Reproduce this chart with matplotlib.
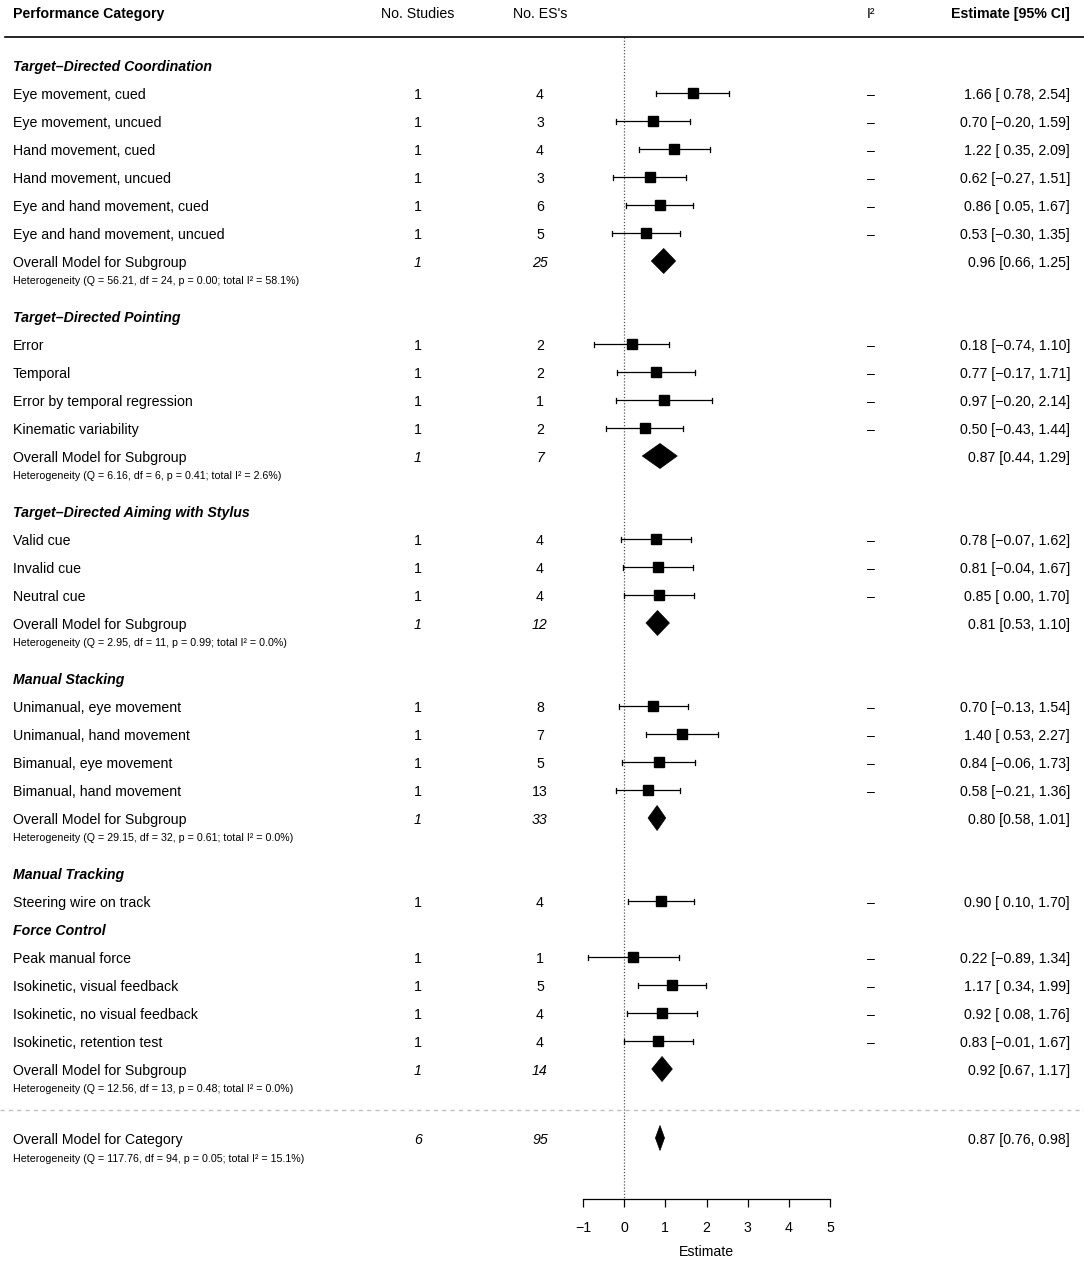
import matplotlib
matplotlib.use("Agg")
import matplotlib.pyplot as plt
from matplotlib.transforms import blended_transform_factory
from matplotlib.patches import Polygon

plt.rcParams['font.family'] = ['Liberation Sans', 'DejaVu Sans']

# ---------------- data ----------------
group_titles = ["Target\u2013Directed Coordination", "Target\u2013Directed Pointing",
                "Target\u2013Directed Aiming with Stylus", "Manual Stacking",
                "Manual Tracking", "Force Control"]

labels = ["Eye movement, cued", "Eye movement, uncued", "Hand movement, cued",
          "Hand movement, uncued", "Eye and hand movement, cued", "Eye and hand movement, uncued",
          "Error", "Temporal", "Error by temporal regression", "Kinematic variability",
          "Valid cue", "Invalid cue", "Neutral cue",
          "Unimanual, eye movement", "Unimanual, hand movement", "Bimanual, eye movement",
          "Bimanual, hand movement",
          "Steering wire on track",
          "Peak manual force", "Isokinetic, visual feedback", "Isokinetic, no visual feedback",
          "Isokinetic, retention test"]
group_of = [0, 0, 0, 0, 0, 0, 1, 1, 1, 1, 2, 2, 2, 3, 3, 3, 3, 4, 5, 5, 5, 5]
n_studies = [1] * 22
n_es = [4, 3, 4, 3, 6, 5, 2, 2, 1, 2, 4, 4, 4, 8, 7, 5, 13, 4, 1, 5, 4, 4]
est = [1.66, 0.70, 1.22, 0.62, 0.86, 0.53, 0.18, 0.77, 0.97, 0.50, 0.78, 0.81, 0.85,
       0.70, 1.40, 0.84, 0.58, 0.90, 0.22, 1.17, 0.92, 0.83]
ci_lo = [0.78, -0.20, 0.35, -0.27, 0.05, -0.30, -0.74, -0.17, -0.20, -0.43, -0.07, -0.04, 0.00,
         -0.13, 0.53, -0.06, -0.21, 0.10, -0.89, 0.34, 0.08, -0.01]
ci_hi = [2.54, 1.59, 2.09, 1.51, 1.67, 1.35, 1.10, 1.71, 2.14, 1.44, 1.62, 1.67, 1.70,
         1.54, 2.27, 1.73, 1.36, 1.70, 1.34, 1.99, 1.76, 1.67]

sub_studies = [1, 1, 1, 1, None, 1]
sub_es = [25, 7, 12, 33, None, 14]
sub_est = [0.96, 0.87, 0.81, 0.80, None, 0.92]
sub_lo = [0.66, 0.44, 0.53, 0.58, None, 0.67]
sub_hi = [1.25, 1.29, 1.10, 1.01, None, 1.17]
het_Q = [56.21, 6.16, 2.95, 29.15, None, 12.56]
het_df = [24, 6, 11, 32, None, 13]
het_p = [0.00, 0.41, 0.99, 0.61, None, 0.48]
het_I2 = [58.1, 2.6, 0.0, 0.0, None, 0.0]

overall_studies = 6
overall_es = 95
overall_est, overall_lo, overall_hi = 0.87, 0.76, 0.98
overall_Q, overall_df, overall_p, overall_I2 = 117.76, 94, 0.05, 15.1

x_ticks = [-1, 0, 1, 2, 3, 4, 5]

# ---------------- layout ----------------
W, H = 1084, 1263
FS = 10.2
FS_HET = 7.7
ROW = 28
DY = 1.8   # text baseline adjustment
fig = plt.figure(figsize=(W / 100, H / 100), dpi=100)
ax = fig.add_axes([0, 0, 1, 1])
x0_px, x1_px = 583, 830          # pixel positions of -1 and 5
k = (x1_px - x0_px) / 6.0
zero_px = x0_px + k
ax.set_xlim(-zero_px / k, (W - zero_px) / k)
ax.set_ylim(H, 0)
tr = blended_transform_factory(ax.transAxes, ax.transData)

def px(x):
    return x / W

COL_LABEL = px(13)
COL_STUD = px(418)
COL_ES = px(540)
COL_I2 = px(871)
COL_EST = px(1070)

def txt(x, y, s, **kw):
    kw.setdefault('fontsize', FS)
    kw.setdefault('va', 'center')
    ax.text(x, y + DY, s, transform=tr, **kw)

def fmt_row(e, l, h):
    return f"{e:.2f} [{l:5.2f}, {h:.2f}]".replace("-", "\u2212")

def fmt_sub(e, l, h):
    return f"{e:.2f} [{l:.2f}, {h:.2f}]"

def diamond(e, l, h, y, half=12.5):
    ax.add_patch(Polygon([(l, y), (e, y - half), (h, y), (e, y + half)],
                         closed=True, facecolor='black', edgecolor='black', lw=0.5))

# header
yh = 12
txt(COL_LABEL, yh, "Performance Category", fontweight='bold')
txt(COL_STUD, yh, "No. Studies", ha='center')
txt(COL_ES, yh, "No. ES's", ha='center')
txt(COL_I2, yh, "I\u00b2", ha='center')
txt(COL_EST, yh, "Estimate [95% CI]", fontweight='bold', ha='right')
ax.plot([px(5), 1], [37, 37], transform=tr, color='black', lw=1.2)

y = 65
last_y = None
for g, title in enumerate(group_titles):
    txt(COL_LABEL, y, title, fontweight='bold', style='italic')
    idx = [i for i, gg in enumerate(group_of) if gg == g]
    for i in idx:
        y += ROW
        txt(COL_LABEL, y, labels[i])
        txt(COL_STUD, y, str(n_studies[i]), ha='center')
        txt(COL_ES, y, str(n_es[i]), ha='center')
        txt(COL_I2, y, "\u2013", ha='center')
        txt(COL_EST, y, fmt_row(est[i], ci_lo[i], ci_hi[i]), ha='right')
        ax.plot([ci_lo[i], ci_hi[i]], [y, y], color='black', lw=0.9)
        ax.plot([ci_lo[i], ci_lo[i]], [y - 2.5, y + 2.5], color='black', lw=0.9)
        ax.plot([ci_hi[i], ci_hi[i]], [y - 2.5, y + 2.5], color='black', lw=0.9)
        ax.plot([est[i]], [y], marker='s', ms=7.0, color='black', mec='black')
    if sub_est[g] is not None:
        y += ROW
        txt(COL_LABEL, y, "Overall Model for Subgroup")
        txt(COL_STUD, y, str(sub_studies[g]), ha='center', style='italic')
        txt(COL_ES, y, str(sub_es[g]), ha='center', style='italic')
        txt(COL_EST, y, fmt_sub(sub_est[g], sub_lo[g], sub_hi[g]), ha='right')
        diamond(sub_est[g], sub_lo[g], sub_hi[g], y)
        txt(COL_LABEL, y + 18.5,
            f"Heterogeneity (Q = {het_Q[g]:.2f}, df = {het_df[g]}, p = {het_p[g]:.2f}; total I\u00b2 = {het_I2[g]:.1f}%)",
            fontsize=FS_HET)
        last_y = y
        y += 55
    else:
        y += ROW

# overall
y_dash = last_y + 41
ax.plot([0, 1], [y_dash, y_dash], transform=tr, color='#c0c0c0', lw=1.0, ls=(0, (3, 3)))
yo = last_y + 69
txt(COL_LABEL, yo, "Overall Model for Category")
txt(COL_STUD, yo, str(overall_studies), ha='center', style='italic')
txt(COL_ES, yo, str(overall_es), ha='center', style='italic')
txt(COL_EST, yo, fmt_sub(overall_est, overall_lo, overall_hi), ha='right')
diamond(overall_est, overall_lo, overall_hi, yo)
txt(COL_LABEL, yo + 19.5,
    f"Heterogeneity (Q = {overall_Q:.2f}, df = {overall_df}, p = {overall_p:.2f}; total I\u00b2 = {overall_I2:.1f}%)",
    fontsize=FS_HET)

# axis
y_axis = yo + 61
ax.plot([0, 0], [37, y_axis], color='#555555', lw=0.9, ls=(0, (1, 1.5)), zorder=0)
for s in ['top', 'left', 'right']:
    ax.spines[s].set_visible(False)
ax.spines['bottom'].set_position(('data', y_axis))
ax.spines['bottom'].set_bounds(x_ticks[0], x_ticks[-1])
ax.spines['bottom'].set_linewidth(0.9)
ax.set_xticks(x_ticks)
ax.set_xticklabels([str(t).replace("-", "\u2212") for t in x_ticks])
ax.tick_params(axis='x', direction='out', length=5.5, width=0.9, labelsize=FS, pad=10.5)
ax.yaxis.set_visible(False)
ax.set_xlabel("Estimate", fontsize=FS)
ax.xaxis.set_label_coords(2, y_axis + 53, transform=ax.transData)
ax.xaxis.label.set_va('center')

fig.savefig("out.png", dpi=100, facecolor='white')
